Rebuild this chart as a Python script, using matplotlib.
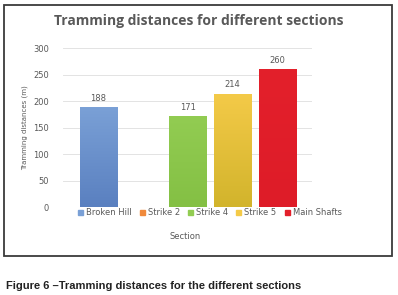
import matplotlib.pyplot as plt
import matplotlib.patches as mpatches
import numpy as np
from matplotlib.colors import LinearSegmentedColormap

sections = ['Broken Hill', 'Strike 2', 'Strike 4', 'Strike 5', 'Main Shafts']
distances = [188, 0, 171, 214, 260]
top_colors = ['#7aa0d6', '#f08a3c', '#92cc52', '#f4ca48', '#e3202b']
bottom_colors = ['#5a80c0', '#e0701e', '#84c044', '#d2b42c', '#de1c28']

grey = '#595959'

fig = plt.figure(figsize=(3.98, 2.95), dpi=100)
ax = fig.add_axes([0.158, 0.298, 0.626, 0.539])

x = np.arange(len(sections))
bars = ax.bar(x, distances, width=0.83, color=top_colors, zorder=2)
for b, c1, c2 in zip(bars, top_colors, bottom_colors):
    h = b.get_height()
    if h <= 0:
        continue
    cmap = LinearSegmentedColormap.from_list('g', [c2, c1])
    grad = np.linspace(0, 1, 100).reshape(-1, 1)
    im = ax.imshow(grad, cmap=cmap, aspect='auto', origin='lower',
                   extent=[b.get_x(), b.get_x() + b.get_width(), 0, h], zorder=3)
    im.set_clip_path(b)
    ax.text(b.get_x() + b.get_width() / 2, h + 8, str(h), ha='center', va='bottom',
            fontsize=6, color=grey)

ax.set_xlim(-0.793, 4.77)
ax.set_ylim(0, 300)
ax.set_yticks(range(0, 301, 50))
ax.yaxis.grid(True, color='#e3e3e3', linewidth=0.7, zorder=0)
ax.set_xticks([])
for s in ax.spines.values():
    s.set_visible(False)
ax.tick_params(axis='y', length=0, labelsize=6, labelcolor=grey, pad=10)
ax.set_ylabel('Tramming distances (m)', fontsize=5, color=grey)
ax.yaxis.set_label_coords(-0.14, 0.5)

fig.text(0.5, 0.93, 'Tramming distances for different sections', ha='center', va='center',
         fontsize=10, fontweight='bold', color=grey, family='Open Sans')

handles = [mpatches.Patch(color=c) for c in top_colors]
fig.legend(handles, sections, loc='center', bbox_to_anchor=(0.527, 0.278), ncol=5,
           frameon=False, fontsize=6, handlelength=0.6, handleheight=0.6,
           handletextpad=0.35, columnspacing=1.0, labelcolor=grey)

fig.text(0.465, 0.197, 'Section', ha='center', va='center', fontsize=6, color=grey)

fig.add_artist(mpatches.Rectangle((0.011, 0.132), 0.974, 0.852, transform=fig.transFigure,
                                  fill=False, edgecolor='#3a3a3a', linewidth=1.3))

fig.text(0.015, 0.015, 'Figure 6 \u2013Tramming distances for the different sections',
         ha='left', va='bottom', fontsize=8.0, fontweight='bold', color='#222222',
         family='Liberation Sans')

fig.savefig('out.png', dpi=100)
